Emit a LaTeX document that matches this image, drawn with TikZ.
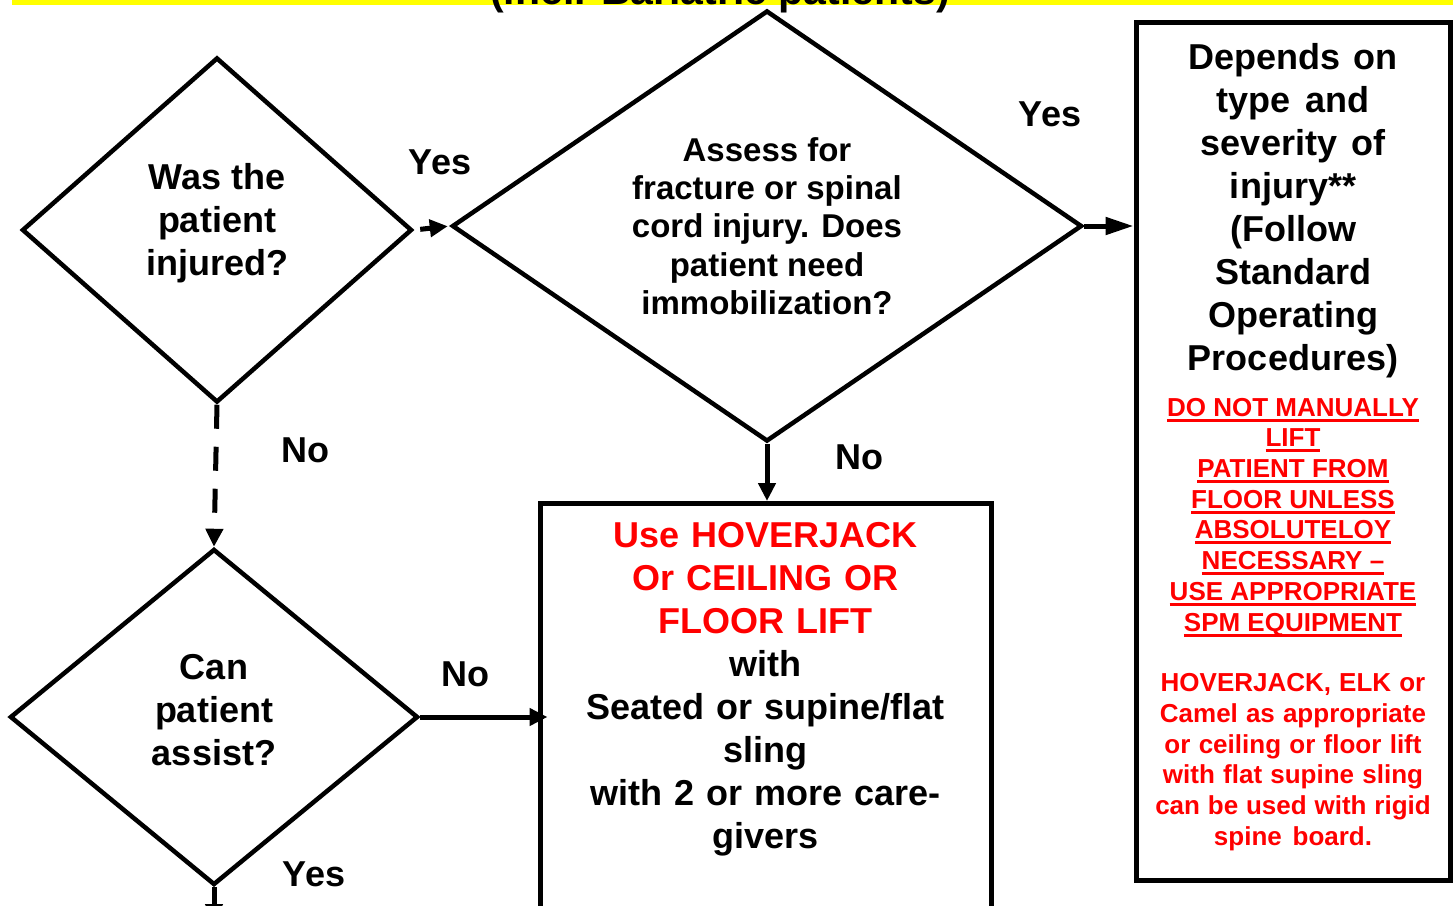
\documentclass[tikz,border=0pt]{standalone}
\usepackage{fontspec}
\setmainfont{Liberation Sans}
\usetikzlibrary{arrows.meta, positioning, shapes.geometric, calc}

\definecolor{alertred}{RGB}{255,0,0}
\definecolor{banneryellow}{RGB}{255,255,0}
\newcommand{\chartfont}{\fontsize{36}{43}\selectfont\bfseries}
\newcommand{\askfont}{\fontsize{33}{38.3}\selectfont\bfseries}
\newcommand{\notefont}{\fontsize{26}{30.7}\selectfont\bfseries}
\newcommand{\warnline}[1]{\leavevmode\setbox0\hbox{#1}\rlap{\rule[-5.5pt]{\wd0}{3pt}}\box0}

\begin{document}
\begin{tikzpicture}[x=1pt, y=-1pt,
  every node/.style={align=center},
  decision/.style={diamond, draw, line width=4.5pt, inner sep=0pt, font=\chartfont},
  infobox/.style={rectangle, draw, line width=5pt},
  flow/.style={line width=5pt, -{Triangle[length=18pt, width=17pt]}},
  answer/.style={anchor=base, font=\chartfont}
]
  \useasboundingbox (0,0) rectangle (1453,905);
  \clip (0,0) rectangle (1453,905);

  % banner at the top, cut off by the page
  \fill[banneryellow] (12,-40) rectangle (1453,5);
  \node[anchor=base, font=\fontsize{41}{48}\selectfont\bfseries] (title) at (720,4) {(incl. Bariatric patients)};

  % decisions
  \node[decision, minimum width=390pt, minimum height=345pt, shape aspect=1.13, text depth=21.5pt] (injured) at (217,230) {Was the\\patient\\injured?};
  \node[decision, minimum width=630pt, minimum height=431pt, shape aspect=1.46, font=\askfont] (assess) at (767,226) {Assess for\\fracture or spinal\\cord injury. Does\\patient need\\immobilization?};
  \node[decision, minimum width=408pt, minimum height=336pt, shape aspect=1.2, text depth=14pt] (canassist) at (214,717) {Can\\patient\\assist?};

  % outcome boxes
  \node[infobox, minimum width=314pt, minimum height=858pt, text width=300pt, inner sep=0pt, font=\chartfont] (depends) at (1293,451) {%
    \spaceskip=0pt\xspaceskip=0pt
    Depends on\\type and\\severity of\\injury**\\(Follow\\Standard\\Operating\\Procedures)\\[15pt]
    \notefont\color{alertred}\warnline{DO NOT MANUALLY}\\\warnline{LIFT}\\\warnline{PATIENT FROM}\\\warnline{FLOOR UNLESS}\\\warnline{ABSOLUTELOY}\\\warnline{NECESSARY –}\\\warnline{USE APPROPRIATE}\\\warnline{SPM EQUIPMENT}\\[30pt]
    HOVERJACK, ELK or\\Camel as appropriate\\or ceiling or floor lift\\with flat supine sling\\can be used with rigid\\spine board.\par\vspace{8pt}};
  \node[infobox, minimum width=451pt, minimum height=440pt, anchor=north] (liftbox) at (765.5,501) {};
  \node[below=21pt of liftbox.north, inner sep=0pt, text width=440pt, font=\chartfont] (lifttext) {%
    \color{alertred}Use HOVERJACK\\Or CEILING OR\\FLOOR LIFT\\
    \color{black}with\\Seated or supine/flat\\sling\\with 2 or more care-\\givers};
  \coordinate (nextstep) at (214,922);

  % connectors
  \draw[flow, shorten <=6pt, shorten >=2pt] (injured.east) -- (assess.west);
  \draw[flow, -{Triangle[length=28pt, width=17pt]}] (assess.east) -- (assess.east -| depends.west);
  \draw[flow] (assess.south) -- (assess.south |- liftbox.north);
  \draw[flow, dash pattern={on 24pt off 18pt}] (injured.south) -- (canassist.north);
  \draw[flow, shorten >=-10pt] (canassist.east) -- (canassist.east -| liftbox.west);
  \draw[flow] (canassist.south) -- (nextstep);

  % answers
  \node[answer] (yesfracture) at (440,174) {Yes};
  \node[answer] (yesimmob) at (1050,126) {Yes};
  \node[answer] (noinjury) at (305,462) {No};
  \node[answer] (noimmob) at (859,469) {No};
  \node[answer] (noassist) at (465,686) {No};
  \node[answer] (yesassist) at (314,886) {Yes};
\end{tikzpicture}
\end{document}
